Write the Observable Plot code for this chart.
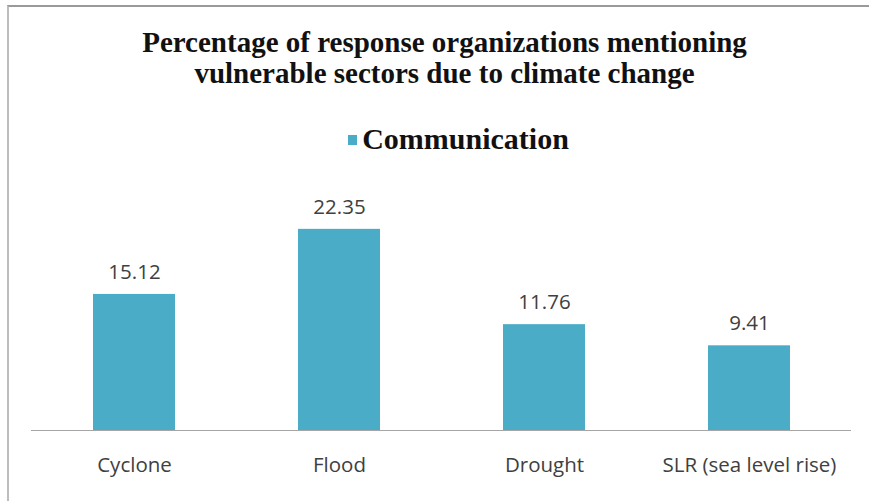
<!DOCTYPE html>
<html>
<head>
<meta charset="utf-8">
<script src="https://cdn.jsdelivr.net/npm/d3@7"></script>
<script src="https://cdn.jsdelivr.net/npm/@observablehq/plot@0.6"></script>
<style>
  html, body { margin: 0; padding: 0; background: #fff; }
  #wrap { position: relative; width: 869px; height: 501px; overflow: hidden; background: #fff; }
  #frame { position: absolute; left: 7px; top: 5px; width: 870px; height: 500px;
           border-left: 2px solid #bdbdbd; border-top: 2px solid #9a9a9a; box-sizing: border-box; }
  #title { position: absolute; left: 10px; width: 869px; top: 27px; text-align: center;
           font-family: "Liberation Serif", "Times New Roman", serif; font-weight: bold;
           font-size: 29px; line-height: 31px; color: #111; }
  #legend { position: absolute; left: 24px; width: 869px; top: 122px; text-align: center;
            font-family: "Liberation Serif", "Times New Roman", serif; font-weight: bold;
            font-size: 30px; line-height: 34px; color: #111; }
  #legend .sw { display: inline-block; width: 9px; height: 10px; background: #4aacc6;
                margin-right: 5px; vertical-align: 4px; }
  #chart { position: absolute; left: 0; top: 160px; }
</style>
</head>
<body>
<div id="wrap">
  <div id="frame"></div>
  <div id="title">Percentage of response organizations mentioning<br>vulnerable sectors due to climate change</div>
  <div id="legend"><span class="sw"></span>Communication</div>
  <div id="chart"></div>
</div>
<script>
const categories = ["Cyclone", "Flood", "Drought", "SLR (sea level rise)"];
const values = [15.12, 22.35, 11.76, 9.41];
const seriesName = "Communication";

const data = categories.map((c, i) => ({category: c, value: values[i]}));

const chart = Plot.plot({
  width: 869,
  height: 341,
  marginLeft: 31,
  marginRight: 18,
  marginTop: 45,
  marginBottom: 71,
  style: { background: "transparent", fontFamily: "'Open Sans', sans-serif" },
  x: { domain: categories, paddingInner: 0.6, paddingOuter: 0.3, label: null },
  y: { domain: [0, 25], axis: null },
  marks: [
    Plot.barY(data, { x: "category", y: "value", fill: "#4aacc6" }),
    Plot.ruleY([0], { stroke: "#a6a6a6", strokeWidth: 1.2 }),
    Plot.text(data, { x: "category", y: "value", text: d => d.value.toFixed(2), dy: -22,
                      fontSize: 20.5, fill: "#404040" }),
    Plot.axisX({ tickSize: 0, tickPadding: 27, fontSize: 20.5, color: "#404040", label: null })
  ]
});
document.getElementById("chart").appendChild(chart);
</script>
</body>
</html>
